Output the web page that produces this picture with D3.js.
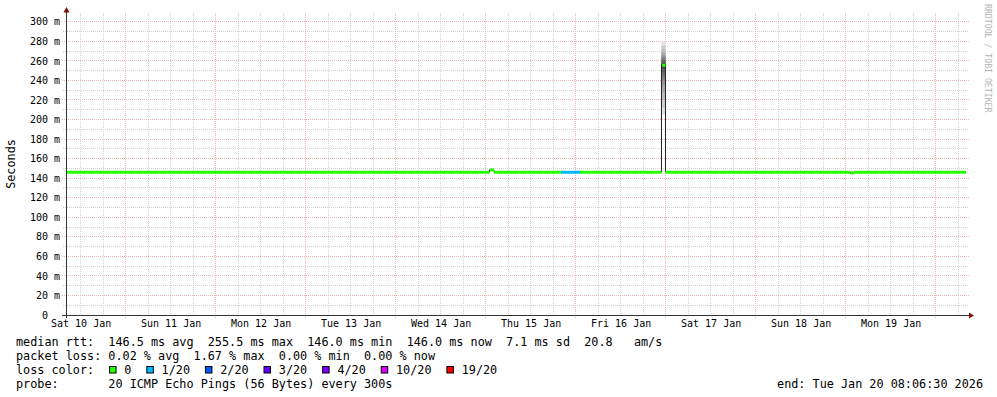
<!DOCTYPE html>
<html>
<head>
<meta charset="utf-8">
<script src="https://cdn.jsdelivr.net/npm/d3@7"></script>
<style>
  html, body { margin: 0; padding: 0; background: #fff; }
  svg { display: block; font-family: "DejaVu Sans Mono", monospace; }
  text { white-space: pre; }
</style>
</head>
<body>
<svg id="chart" width="997" height="397"></svg>
<script>
// smokeping style latency graph (rrdtool look)
// - median rtt drawn as step segments coloured by packet loss
// - grey smoke = spread of the 20 pings (only visible on the spike)

const startTime = "2026-01-10T08:06:30Z";
const endTime = "2026-01-20T08:06:30Z";

// median rtt segments (ms), each lasts until the next start
const segStart = [
  "2026-01-10T08:06:30Z", "2026-01-15T01:02:00Z", "2026-01-15T02:14:00Z",
  "2026-01-15T20:06:00Z", "2026-01-16T01:10:00Z", "2026-01-16T22:54:00Z",
  "2026-01-16T23:58:00Z", "2026-01-19T01:10:00Z", "2026-01-19T02:14:00Z"
];
const segMedian = [146.0, 148.5, 146.0, 146.0, 146.0, 255.5, 146.0, 145.2, 146.0];
const segLoss = [0, 0, 0, 1, 0, 0, 0, 0, 0]; // lost pings out of 20

// sorted pings of the spike segment (ms)
const spikeSeg = 5;
const spikePings = [205, 212, 220, 228, 235, 240, 244, 248, 252, 255,
                    256, 258, 260, 262, 264, 266, 269, 272, 276, 280];

const lossLevels = [0, 1, 2, 3, 4, 10, 19];
const lossLabels = ["0", "1/20", "2/20", "3/20", "4/20", "10/20", "19/20"];
const lossColors = ["#26ff00", "#00b8ff", "#0059ff", "#5e00ff", "#7e00ff", "#dd00ff", "#ff0000"];

const yMajor = d3.range(0, 301, 20);
const yMinor = d3.range(10, 301, 20);

const statLines = [
  "median rtt:  146.5 ms avg  255.5 ms max  146.0 ms min  146.0 ms now  7.1 ms sd  20.8   am/s",
  "packet loss: 0.02 % avg  1.67 % max  0.00 % min  0.00 % now"
];
const probeLine = "probe:       20 ICMP Echo Pings (56 Bytes) every 300s";
const endLine = "end: Tue Jan 20 08:06:30 2026";

const W = 997, H = 397;
const svg = d3.select('#chart');
const t0 = new Date(startTime), t1 = new Date(endTime);

const x = d3.scaleUtc().domain([t0, t1]).range([66, 966]);
const y = d3.scaleLinear().domain([0, 300]).range([315, 21.7]);
const plotTop = 13, plotRight = 969;
const px = v => Math.floor(v) + 0.5;

// grid
const grid = svg.append('g').attr('stroke-width', 1).attr('stroke-dasharray', '1,1').attr('shape-rendering', 'crispEdges');
const sixHours = d3.utcHour.every(6).range(t0, t1);
grid.selectAll('.vmin').data(sixHours.filter(d => d.getUTCHours() !== 0)).join('line')
  .attr('x1', d => px(x(d))).attr('x2', d => px(x(d)))
  .attr('y1', plotTop).attr('y2', 317).attr('stroke', '#d2d2d2');
grid.selectAll('.hmin').data(yMinor).join('line')
  .attr('x1', 63).attr('x2', plotRight)
  .attr('y1', d => px(y(d))).attr('y2', d => px(y(d))).attr('stroke', '#d2d2d2');
grid.selectAll('.vmaj').data(sixHours.filter(d => d.getUTCHours() === 0)).join('line')
  .attr('x1', d => px(x(d))).attr('x2', d => px(x(d)))
  .attr('y1', plotTop).attr('y2', 318).attr('stroke', '#efb4b4');
grid.selectAll('.hmaj').data(yMajor.filter(d => d > 0)).join('line')
  .attr('x1', 62).attr('x2', plotRight)
  .attr('y1', d => px(y(d))).attr('y2', d => px(y(d))).attr('stroke', '#efb4b4');

// segments with end times
const segs = segStart.map((s, i) => ({
  start: new Date(s),
  end: new Date(i + 1 < segStart.length ? segStart[i + 1] : endTime),
  median: segMedian[i],
  loss: segLoss[i]
}));

// smoke on the spike
const sp = segs[spikeSeg];
const shade = d3.interpolateRgb('#e4e4e4', '#3a3a3a');
const pairs = d3.range(10).map(k => ({ lo: spikePings[k], hi: spikePings[19 - k], k }));
svg.append('g').selectAll('rect').data(pairs).join('rect')
  .attr('x', x(sp.start)).attr('width', x(sp.end) - x(sp.start))
  .attr('y', d => y(d.hi)).attr('height', d => y(d.lo) - y(d.hi))
  .attr('fill', d => shade(d.k / 9));

// thin dark median line with steps
const stepPts = segs.map(d => [d.start, d.median]).concat([[t1, segs[segs.length - 1].median]]);
svg.append('path')
  .attr('d', d3.line().x(d => x(d[0])).y(d => y(d[1])).curve(d3.curveStepAfter)(stepPts))
  .attr('fill', 'none').attr('stroke', '#202020').attr('stroke-width', 1);

// loss coloured median
const lossColor = l => lossColors[d3.bisectRight(lossLevels, l) - 1];
svg.append('g').selectAll('line').data(segs).join('line')
  .attr('x1', d => x(d.start) + (d.median !== segMedian[0] ? 0.6 : 0))
  .attr('x2', d => x(d.end))
  .attr('y1', d => y(d.median)).attr('y2', d => y(d.median))
  .attr('stroke', d => lossColor(d.loss)).attr('stroke-width', 3);

// axes
const axisCol = '#333';
svg.append('line').attr('x1', 66.5).attr('x2', 66.5).attr('y1', 318).attr('y2', 12)
  .attr('stroke', axisCol).attr('shape-rendering', 'crispEdges');
svg.append('line').attr('x1', 62).attr('x2', 970).attr('y1', 315.5).attr('y2', 315.5)
  .attr('stroke', axisCol).attr('shape-rendering', 'crispEdges');
svg.append('path').attr('d', 'M63.5,12.5 L66.5,7 L69.5,12.5 Z').attr('fill', '#7f1010');
svg.append('path').attr('d', 'M969,312.5 L974,315.5 L969,318.5 Z').attr('fill', '#7f1010');

const yAxis = d3.axisLeft(y).tickValues(yMajor)
  .tickFormat(d => d === 0 ? '0' : d + ' m').tickSize(0).tickPadding(6);
const gy = svg.append('g').attr('transform', 'translate(66,0)').call(yAxis);
gy.select('.domain').remove();
gy.selectAll('.tick line').remove();
gy.selectAll('text').attr('font-family', '"DejaVu Sans Mono", monospace').attr('font-size', 10).attr('fill', '#000');
// rrdtool leaves the unit column blank for zero
gy.selectAll('text').filter(d => d === 0).attr('dx', -12);

const noons = d3.utcDay.range(d3.utcDay.floor(t0), t1).map(d => d3.utcHour.offset(d, 12))
  .filter(d => d >= t0 && d <= t1);
const xAxis = d3.axisBottom(x).tickValues(noons).tickFormat(d3.utcFormat('%a %d %b')).tickSize(0).tickPadding(5);
const gx = svg.append('g').attr('transform', 'translate(0,315)').call(xAxis);
gx.select('.domain').remove();
gx.selectAll('.tick line').remove();
gx.selectAll('text').attr('font-family', '"DejaVu Sans Mono", monospace').attr('font-size', 10).attr('fill', '#000');

// y title
svg.append('text').attr('transform', 'translate(14.5,164) rotate(-90)')
  .attr('text-anchor', 'middle').attr('font-size', 11.8).text('Seconds');

// watermark
svg.append('text').attr('transform', 'translate(985,4) rotate(90)')
  .attr('font-size', 8.2).attr('fill', '#b4b4b4').text('RRDTOOL / TOBI OETIKER');

// legend
const lg = svg.append('g').attr('font-size', 11.8).attr('fill', '#000');
const lineY = [345.5, 359.5, 373.5, 387.5];
statLines.forEach((s, i) => lg.append('text').attr('x', 16).attr('y', lineY[i]).text(s));
const probe = lg.append('text').attr('x', 16).attr('y', lineY[3]).text(probeLine);
const cw = probe.node().getComputedTextLength() / probeLine.length;
lg.append('text').attr('x', W - 14).attr('y', lineY[3]).attr('text-anchor', 'end').text(endLine);

lg.append('text').attr('x', 16).attr('y', lineY[2]).text('loss color:');
let cursor = 16 + 13 * cw;
lossLabels.forEach((lab, i) => {
  lg.append('rect').attr('x', cursor + 0.1 * cw + 0.5).attr('y', 366.5).attr('width', 6.5).attr('height', 6.5)
    .attr('fill', lossColors[i]).attr('stroke', '#000').attr('stroke-width', 1);
  const tx = cursor + 2.25 * cw;
  lg.append('text').attr('x', tx).attr('y', lineY[2]).text(lab);
  cursor = tx + (lab.length + 2) * cw;
});
</script>
</body>
</html>
